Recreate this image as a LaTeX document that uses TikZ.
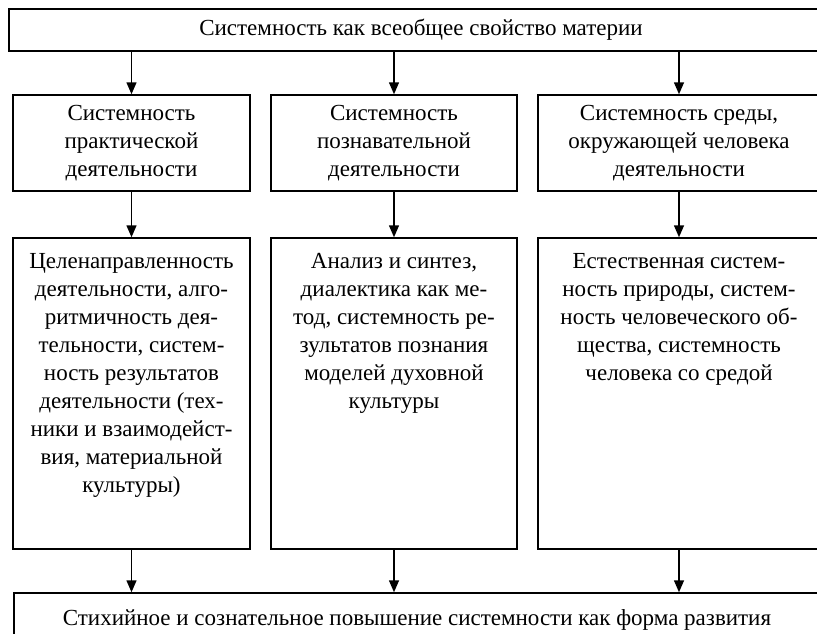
\documentclass[tikz,border=0pt]{standalone}
\usepackage{fontspec}
\setmainfont{Liberation Serif}
\usetikzlibrary{arrows.meta}

\begin{document}
\begin{tikzpicture}[x=1pt, y=1pt, >={Triangle[length=12pt,width=10pt]}, line width=1.5pt]  % pixel-like units

        % Styles for nodes
        \tikzstyle{block} = [draw, rectangle, inner sep=0pt, align=center, font=\fontsize{23}{28}\selectfont]
        \tikzstyle{label} = [inner sep=0pt, align=center, anchor=north, font=\fontsize{23}{28}\selectfont]

        \useasboundingbox (0,0) rectangle (817,-633);

        % Nodes
        \node[block, minimum width=824pt, minimum height=42pt] (top) at (421,-30) {Системность как всеобщее свойство материи};

        \node[block, minimum width=237pt, minimum height=96pt] (mid1) at (131.5,-143) {Системность\\практической\\деятельности};
        \node[block, minimum width=246pt, minimum height=96pt] (mid2) at (394,-143) {Системность\\познавательной\\деятельности};
        \node[block, minimum width=282pt, minimum height=96pt] (mid3) at (679,-143) {Системность среды,\\окружающей человека\\деятельности};

        \node[block, minimum width=237pt, minimum height=311pt] (low1) at (131.5,-393.5) {};
        \node[block, minimum width=246pt, minimum height=311pt] (low2) at (394,-393.5) {};
        \node[block, minimum width=282pt, minimum height=311pt] (low3) at (679,-393.5) {};

        \node[label] (txt1) at ([yshift=-15pt]low1.north) {Целенаправленность\\деятельности, алго-\\ритмичность дея-\\тельности, систем-\\ность результатов\\деятельности (тех-\\ники и взаимодейст-\\вия, материальной\\культуры)};
        \node[label] (txt2) at ([yshift=-15pt]low2.north) {Анализ и синтез,\\диалектика как ме-\\тод, системность ре-\\зультатов познания\\моделей духовной\\культуры};
        \node[label] (txt3) at ([yshift=-15pt]low3.north) {Естественная систем-\\ность природы, систем-\\ность человеческого об-\\щества, системность\\человека со средой};

        \node[block, minimum width=806pt, minimum height=54pt] (bottom) at (417,-620) {Стихийное и сознательное повышение системности как форма развития};

        % Arrows
        \draw[->] (top.south -| mid1.north) -- (mid1.north);
        \draw[->] (top.south -| mid2.north) -- (mid2.north);
        \draw[->] (top.south -| mid3.north) -- (mid3.north);
        \draw[->] (mid1.south) -- (low1.north);
        \draw[->] (mid2.south) -- (low2.north);
        \draw[->] (mid3.south) -- (low3.north);
        \draw[->] (low1.south) -- (low1.south |- bottom.north);
        \draw[->] (low2.south) -- (low2.south |- bottom.north);
        \draw[->] (low3.south) -- (low3.south |- bottom.north);

    \end{tikzpicture}
\end{document}
